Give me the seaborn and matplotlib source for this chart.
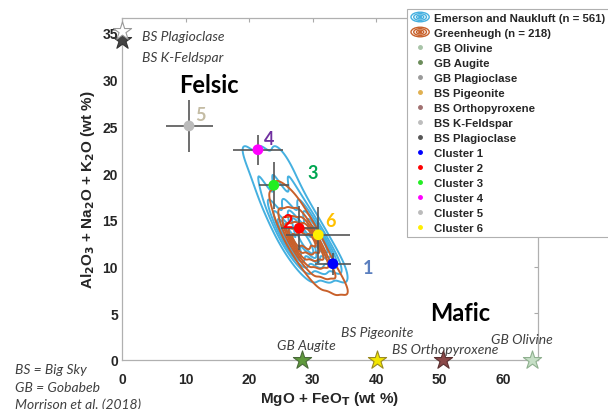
import numpy as np
import pandas as pd
import matplotlib
matplotlib.use("Agg")
import matplotlib.pyplot as plt
import seaborn as sns
from matplotlib.legend_handler import HandlerBase
from matplotlib.patches import Ellipse
from matplotlib.lines import Line2D

# ---------------- data ----------------
# Emerson and Naukluft (n = 561) - representative density points (x, y, weight)
en_x = [20.0, 22.4, 24.8, 21.0, 23.4, 25.8, 22.2, 24.6, 27.0, 23.5, 25.9, 28.3,
        24.8, 27.2, 29.6, 26.0, 28.4, 30.8, 27.1, 29.5, 31.9, 28.3, 30.7, 33.1,
        29.2, 31.6, 34.0]
en_y = [22.0, 22.0, 22.0, 20.5, 20.5, 20.5, 18.5, 18.5, 18.5, 16.5, 16.5, 16.5,
        14.8, 14.8, 14.8, 13.2, 13.2, 13.2, 11.9, 11.9, 11.9, 10.7, 10.7, 10.7,
        10.0, 10.0, 10.0]
en_w = [0.8, 0.8, 0.8, 1.2, 1.2, 1.2, 1.6, 1.6, 1.6, 2.4, 2.4, 2.4,
        3.5, 3.5, 3.5, 4.5, 4.5, 4.5, 3.8, 3.8, 3.8, 2.2, 2.2, 2.2,
        0.8, 0.8, 0.8]

# Greenheugh (n = 218)
gh_x = [23.0, 24.3, 25.5, 24.3, 25.8, 27.3, 25.3, 26.8, 28.3, 26.3, 27.8, 29.3,
        27.1, 28.6, 30.1, 28.1, 29.6, 31.1, 29.3, 30.8, 32.3, 30.5, 32.0, 33.5,
        33.0, 34.6, 36.5]
gh_y = [21.0, 18.7, 18.7, 17.0, 17.0, 17.0, 15.5, 15.5, 15.5, 14.0, 14.0, 14.0,
        12.8, 12.8, 12.8, 11.5, 11.5, 11.5, 10.2, 10.2, 10.2, 9.0, 9.0, 9.0,
        8.0, 8.0, 7.3]
gh_w = [0.4, 0.5, 0.5, 1.0, 1.0, 1.0, 2.0, 2.0, 2.0, 5.0, 5.0, 5.0,
        6.5, 6.5, 6.5, 4.5, 4.5, 4.5, 2.5, 2.5, 2.5, 1.5, 1.5, 1.5,
        0.7, 0.7, 0.3]

# Clusters
cl_names = ["Cluster 1", "Cluster 2", "Cluster 3", "Cluster 4", "Cluster 5", "Cluster 6"]
cl_x = [33.2, 27.9, 23.9, 21.4, 10.55, 30.9]
cl_y = [10.3, 14.1, 18.7, 22.5, 25.05, 13.4]
cl_xerr = [2.8, 2.8, 2.4, 3.9, 3.7, 5.0]
cl_yerr = [1.2, 2.35, 2.5, 1.6, 2.8, 3.0]
cl_colors = ["#0000ff", "#ff0000", "#22ee22", "#ff00ff", "#bbbbbb", "#ffee00"]
cl_labels = ["1", "2", "3", "4", "5", "6"]
cl_label_colors = ["#5b7fbf", "#ff0000", "#00a651", "#7030a0", "#c4bca4", "#ffc000"]

# Minerals (Morrison et al., 2018)
min_names = ["GB Olivine", "GB Augite", "GB Plagioclase", "BS Pigeonite",
             "BS Orthopyroxene", "BS K-Feldspar", "BS Plagioclase"]
min_x = [64.6, 28.3, None, 40.1, 50.5, 0.0, 0.0]
min_y = [0.0, 0.0, None, 0.0, 0.0, 34.2, 35.2]
min_colors = ["#c6dfc6", "#5f9a3c", "#8c8c8c", "#f2e600", "#8b4848", "#444444", "#ffffff"]
min_legend_colors = ["#a8c4a8", "#6b8c5a", "#9a9a9a", "#e0b050", "#a07070", "#bdbdbd", "#555555"]
min_edges = ["#8fb08f", "#4a6a3a", "#666666", "#9a8a20", "#5a3030", "#333333", "#999999"]

# ---------------- figure ----------------
sns.set_theme(style="white")
plt.rcParams["font.family"] = ["Liberation Sans", "DejaVu Sans"]

fig = plt.figure(figsize=(6.08, 4.10), dpi=100)
ax = fig.add_axes([122/608, 1-361/410, (538-122)/608, (361-19)/410])

en_df = pd.DataFrame({"x": en_x, "y": en_y, "w": en_w})
gh_df = pd.DataFrame({"x": gh_x, "y": gh_y, "w": gh_w})
sns.kdeplot(data=en_df, x="x", y="y", weights="w", levels=7, bw_adjust=0.7,
            color="#45b0e0", linewidths=1.4, ax=ax)
sns.kdeplot(data=gh_df, x="x", y="y", weights="w", levels=7, bw_adjust=0.85,
            color="#c8602a", linewidths=1.4, ax=ax)

# error bars + cluster points
for i in range(len(cl_x)):
    ax.errorbar(cl_x[i], cl_y[i], xerr=cl_xerr[i], yerr=cl_yerr[i], fmt="none",
                ecolor="#555555", elinewidth=1.2, capsize=0, zorder=4)
cl_df = pd.DataFrame({"x": cl_x, "y": cl_y, "name": cl_names})
sns.scatterplot(data=cl_df, x="x", y="y", hue="name", palette=cl_colors, s=60,
                edgecolor="none", legend=False, ax=ax, zorder=5)

lab_pos = [(38.7, 9.9), (26.0, 14.8), (30.1, 20.1), (23.1, 23.7), (12.3, 26.3), (32.8, 14.9)]
for (lx, ly), t, c in zip(lab_pos, cl_labels, cl_label_colors):
    ax.text(lx, ly, t, color=c, fontsize=13, fontweight="bold",
            ha="center", va="center", family=["Lato", "DejaVu Sans"], zorder=6)

# mineral stars
for i in range(len(min_names)):
    if min_x[i] is None:
        continue
    ax.scatter(min_x[i], min_y[i], marker="*", s=190, color=min_colors[i],
               edgecolor=min_edges[i], linewidth=0.8, zorder=6, clip_on=False)

ital = dict(fontsize=10, style="italic", color="#404040", family=["Lato", "DejaVu Sans"])
ax.text(3.1, 34.7, "BS Plagioclase", ha="left", va="center", **ital)
ax.text(3.1, 32.4, "BS K-Feldspar", ha="left", va="center", **ital)
ax.text(29.1, 1.6, "GB Augite", ha="center", va="center", **ital)
ax.text(40.2, 3.0, "BS Pigeonite", ha="center", va="center", **ital)
ax.text(50.9, 1.15, "BS Orthopyroxene", ha="center", va="center", **ital)
ax.text(63.0, 2.25, "GB Olivine", ha="center", va="center", **ital)

ax.text(13.7, 29.5, "Felsic", fontsize=17, fontweight="bold", ha="center", va="center",
        family=["Lato", "DejaVu Sans"], color="black")
ax.text(53.2, 5.1, "Mafic", fontsize=17, fontweight="bold", ha="center", va="center",
        family=["Lato", "DejaVu Sans"], color="black")

for yy, t in zip([370, 388, 405], ["BS = Big Sky", "GB = Gobabeb", "Morrison et al. (2018)"]):
    fig.text(15/608, 1-yy/410, t, ha="left", va="center", **ital)

ax.set_xlim(0, 65.5)
ax.set_ylim(0, 36.6)
ax.set_xticks([0, 10, 20, 30, 40, 50, 60])
ax.set_yticks([0, 5, 10, 15, 20, 25, 30, 35])
ax.tick_params(direction="in", top=True, right=True, length=3, width=0.8,
               color="#aaaaaa", labelsize=10, labelcolor="#262626", pad=3)
ax.tick_params(axis="x", pad=9)
for lab in ax.get_xticklabels() + ax.get_yticklabels():
    lab.set_fontweight("bold")
for s in ax.spines.values():
    s.set_color("#b0b0b0")
    s.set_linewidth(0.9)
ax.set_xlabel("MgO + FeO$_\\mathbf{T}$ (wt %)", fontsize=11, fontweight="bold", color="#262626", labelpad=2)
ax.set_ylabel("Al$_\\mathbf{2}$O$_\\mathbf{3}$ + Na$_\\mathbf{2}$O + K$_\\mathbf{2}$O (wt %)",
              fontsize=11, fontweight="bold", color="#262626", labelpad=4)

# ---------------- legend ----------------
class ContourHandle:
    def __init__(self, color):
        self.color = color

class HandlerContour(HandlerBase):
    def create_artists(self, legend, orig_handle, xdescent, ydescent, width, height, fontsize, trans):
        cx = width / 2 - xdescent
        cy = height / 2 - ydescent
        arts = []
        for k, f in enumerate([1.0, 0.7, 0.4, 0.15]):
            e = Ellipse((cx, cy), width * f, height * 1.2 * f, fill=False,
                        edgecolor=orig_handle.color, linewidth=1.0, transform=trans)
            arts.append(e)
        return arts

handles = [ContourHandle("#45b0e0"), ContourHandle("#c8602a")]
labels = ["Emerson and Naukluft (n = 561)", "Greenheugh (n = 218)"]
for n, c in zip(min_names, min_legend_colors):
    handles.append(Line2D([], [], ls="none", marker="o", ms=2.5, color=c))
    labels.append(n)
for n, c in zip(cl_names, cl_colors):
    handles.append(Line2D([], [], ls="none", marker="o", ms=2.5, color=c))
    labels.append(n)

leg = fig.legend(handles, labels, loc="upper left", bbox_to_anchor=(407/608, 1-10/410),
                 bbox_transform=fig.transFigure, borderaxespad=0, frameon=True,
                 fancybox=False, edgecolor="#b0b0b0", framealpha=1,
                 handlelength=1.6, handletextpad=0.4, labelspacing=0.44,
                 borderpad=0.35, handler_map={ContourHandle: HandlerContour()},
                 prop={"weight": "bold", "size": 8.2})
leg.get_frame().set_linewidth(0.8)

fig.savefig("out.png", dpi=100)
